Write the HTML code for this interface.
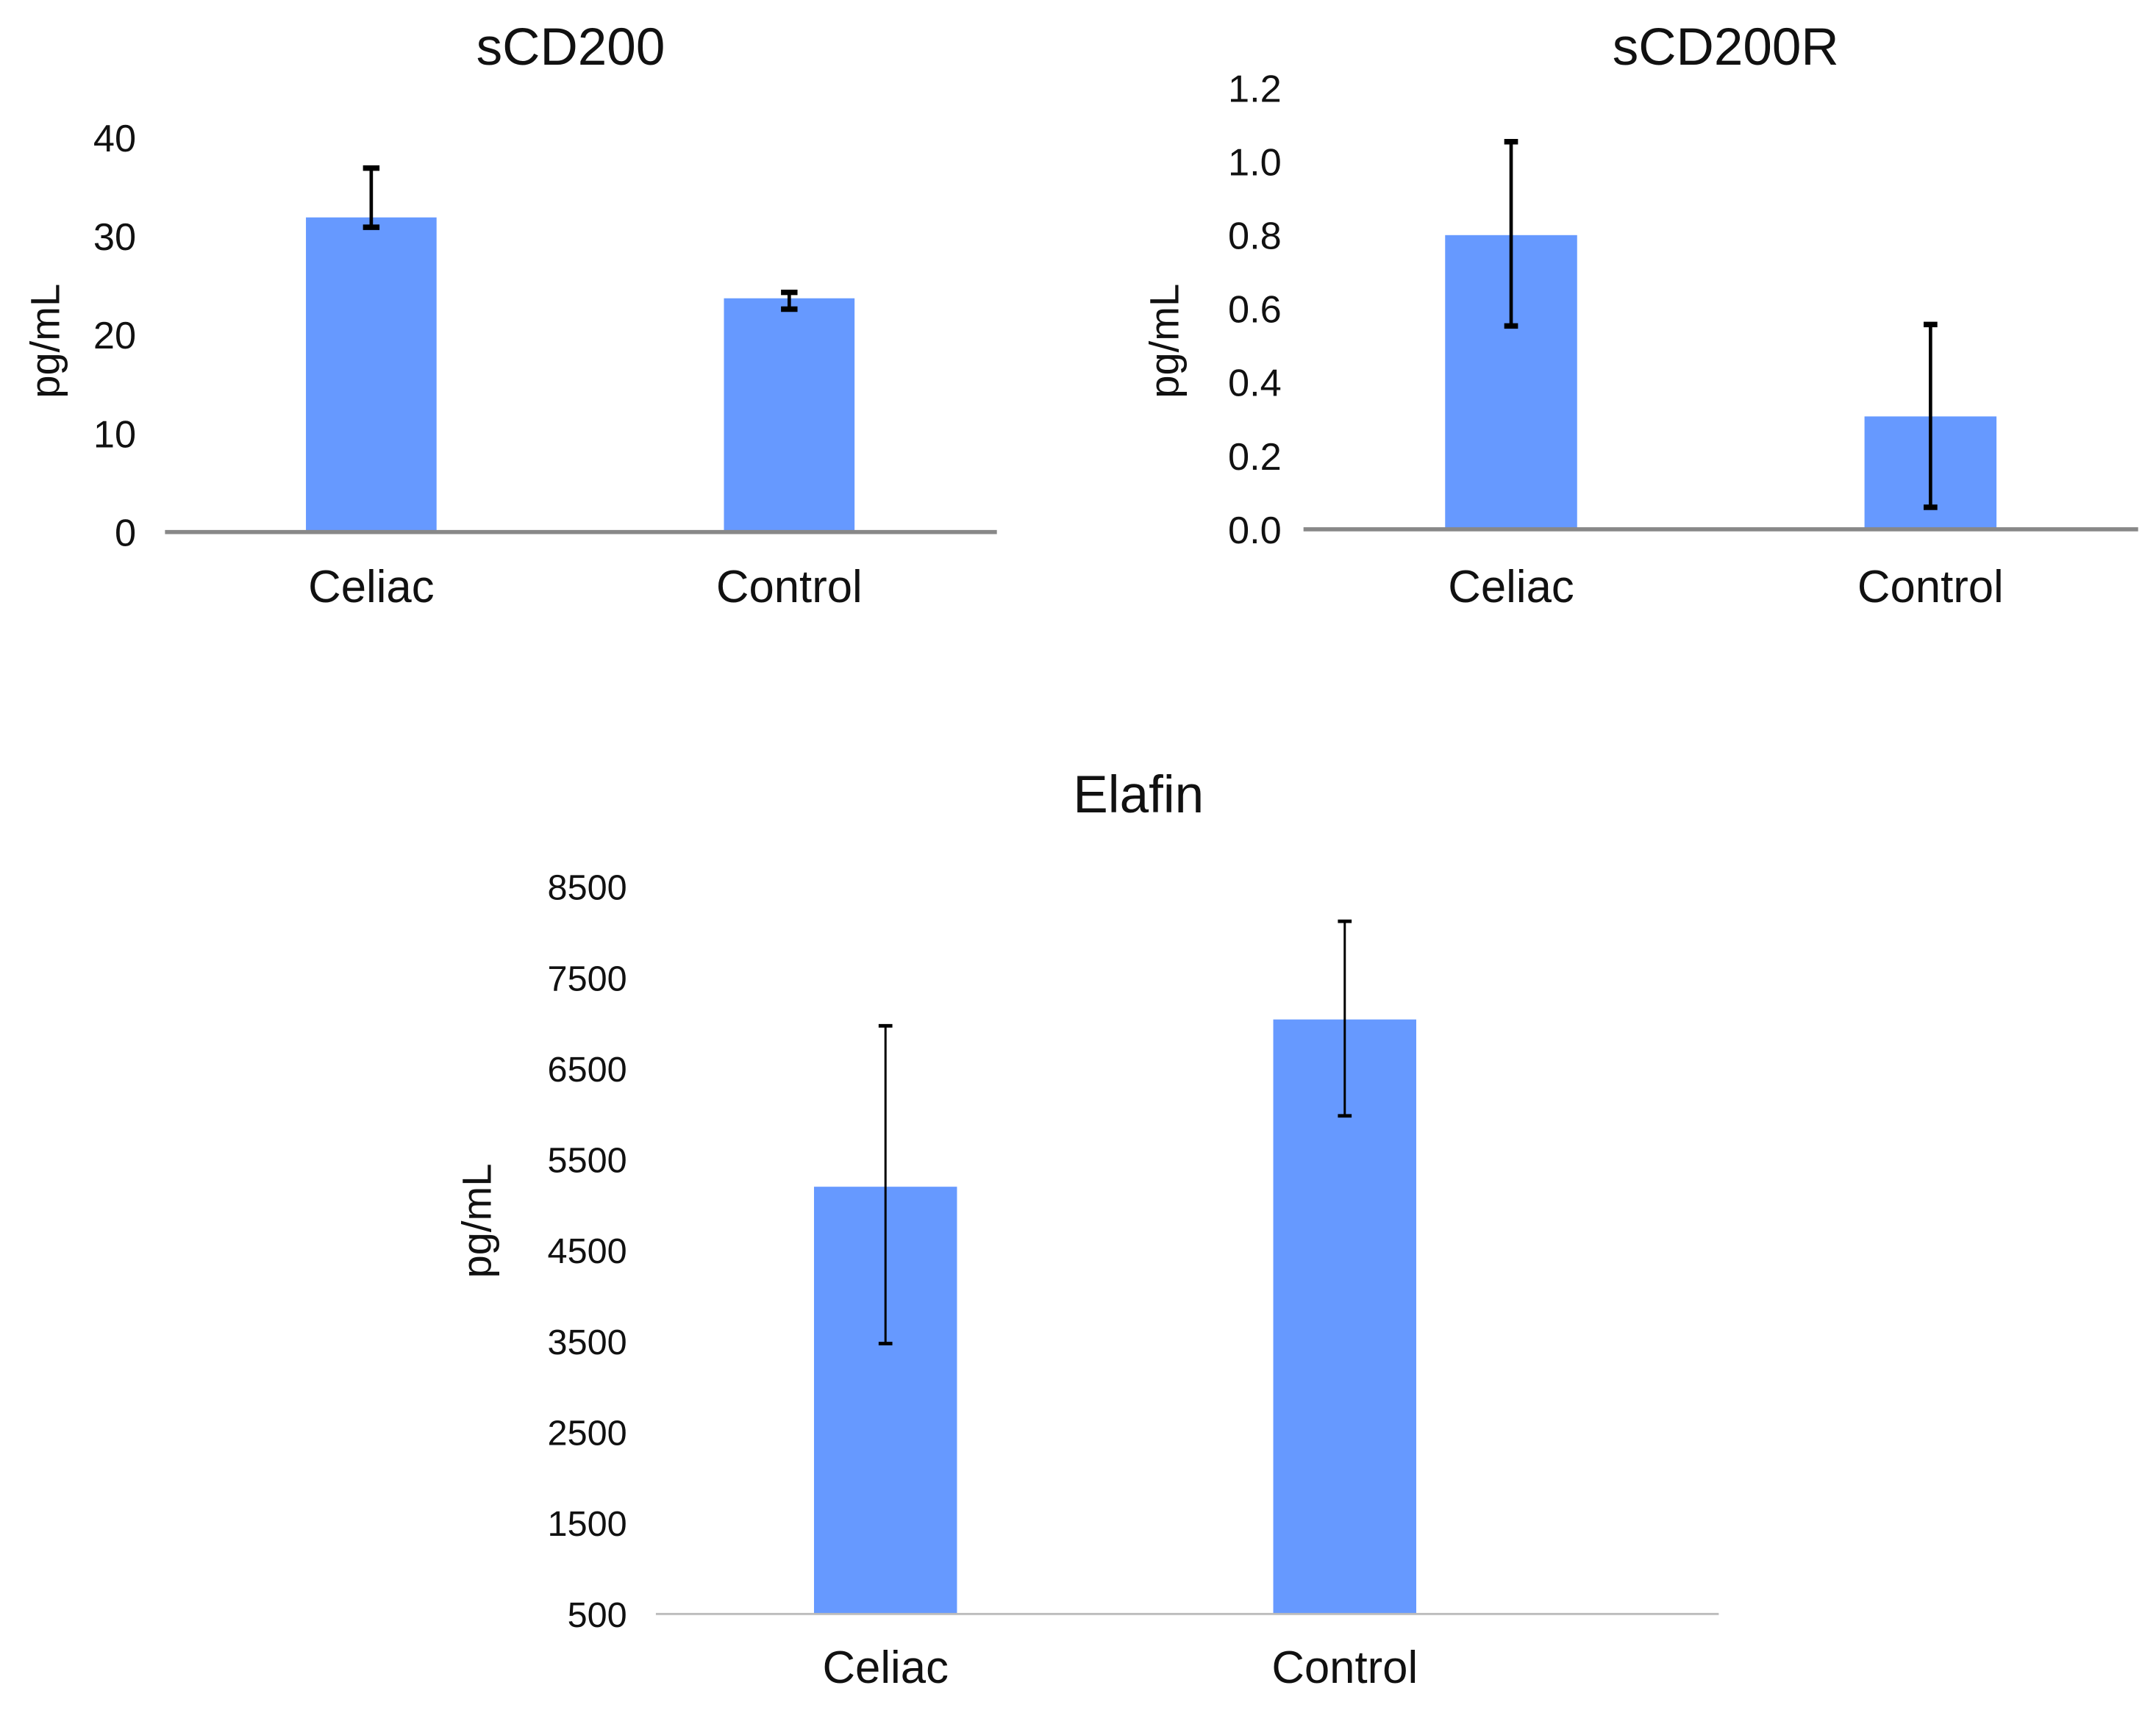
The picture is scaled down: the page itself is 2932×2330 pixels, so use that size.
<!DOCTYPE html>
<html><head><meta charset="utf-8"><style>
html,body{margin:0;padding:0;background:#fff;}
svg{display:block;}
text{font-family:"Liberation Sans Narrow","Liberation Sans",sans-serif;fill:#111;}
</style></head><body>
<svg id="fig" width="2932" height="2330" viewBox="0 0 1568 1246" xmlns="http://www.w3.org/2000/svg"></svg>
<script>
const categories = ["Celiac", "Control"];
const cd200Values = [31.9, 23.7];
const cd200ErrHi = [36.9, 24.3];
const cd200ErrLo = [30.9, 22.6];
const cd200Ticks = ["0", "10", "20", "30", "40"];
const cd200rValues = [0.80, 0.307];
const cd200rErrHi = [1.054, 0.557];
const cd200rErrLo = [0.553, 0.06];
const cd200rTicks = ["0.0", "0.2", "0.4", "0.6", "0.8", "1.0", "1.2"];
const elafinValues = [5200, 7040];
const elafinErrHi = [6970, 8120];
const elafinErrLo = [3475, 5980];
const elafinTicks = ["500", "1500", "2500", "3500", "4500", "5500", "6500", "7500", "8500"];

const NS = "http://www.w3.org/2000/svg";
const svg = document.getElementById("fig");
function mk(tag, attrs, parent, txt) {
  const e = document.createElementNS(NS, tag);
  for (const k in attrs) e.setAttribute(k, attrs[k]);
  if (txt !== undefined) e.textContent = txt;
  (parent || svg).appendChild(e);
  return e;
}

function chart(cfg) {
  const g = mk("g", {});
  
  
  const tmin = parseFloat(cfg.ticks[0]), tmax = parseFloat(cfg.ticks[cfg.ticks.length - 1]);
  const y = v => cfg.y0 - (v - tmin) / (tmax - tmin) * (cfg.y0 - cfg.yTop);
  const t = mk("text", {x: cfg.titleX, y: cfg.titleY, "text-anchor": "middle", "font-size": 38}, g, cfg.title);
  
  
  cfg.ticks.forEach(tk => {
    const l = mk("text", {x: cfg.tickX, y: y(parseFloat(tk)) + cfg.tickFont * 0.36, "text-anchor": "end", "font-size": cfg.tickFont}, g, tk);
    
    
  });
  const yl = mk("text", {x: 0, y: 0, "text-anchor": "middle", "font-size": 30, transform: `translate(${cfg.ylabX},${cfg.ylabY}) rotate(-90)`}, g, "pg/mL");
  
  
  categories.forEach((c, i) => {
    const cx = cfg.cx[i];
    const b = mk("rect", {x: cx - cfg.bw / 2, y: y(cfg.values[i]), width: cfg.bw, height: cfg.y0 - y(cfg.values[i]), fill: "#6699ff"}, g);
    
    
    const eg = mk("g", {stroke: "#000", "stroke-width": cfg.ew}, g);
    
    
    mk("line", {x1: cx, x2: cx, y1: y(cfg.hi[i]), y2: y(cfg.lo[i])}, eg);
    mk("line", {x1: cx - cfg.cap, x2: cx + cfg.cap, y1: y(cfg.hi[i]), y2: y(cfg.hi[i]), "stroke-width": cfg.ew * 1.6}, eg);
    mk("line", {x1: cx - cfg.cap, x2: cx + cfg.cap, y1: y(cfg.lo[i]), y2: y(cfg.lo[i]), "stroke-width": cfg.ew * 1.6}, eg);
    const cl = mk("text", {x: cx, y: cfg.catY, "text-anchor": "middle", "font-size": 33}, g, c);
    
    
  });
  const ax = mk("line", {x1: cfg.ax1, x2: cfg.ax2, y1: cfg.y0, y2: cfg.y0, stroke: cfg.axColor, "stroke-width": cfg.axW}, g);
  
  
}

chart({name: "chart-scd200", title: "sCD200", titleX: 415, titleY: 47, ticks: cd200Ticks,
  values: cd200Values, hi: cd200ErrHi, lo: cd200ErrLo, y0: 387, yTop: 100, tickX: 99, tickFont: 28,
  ylabX: 43, ylabY: 248, cx: [270, 574], bw: 95, cap: 6, ew: 2.5, catY: 438, ax1: 120, ax2: 725, axColor: "#888", axW: 3});
chart({name: "chart-scd200r", title: "sCD200R", titleX: 1255, titleY: 47, ticks: cd200rTicks,
  values: cd200rValues, hi: cd200rErrHi, lo: cd200rErrLo, y0: 385, yTop: 64, tickX: 932, tickFont: 28,
  ylabX: 857, ylabY: 248, cx: [1099, 1404], bw: 96, cap: 5, ew: 2.5, catY: 438, ax1: 948, ax2: 1555, axColor: "#888", axW: 3});
chart({name: "chart-elafin", title: "Elafin", titleX: 828, titleY: 591, ticks: elafinTicks,
  values: elafinValues, hi: elafinErrHi, lo: elafinErrLo, y0: 1174, yTop: 645, tickX: 456, tickFont: 26,
  ylabX: 357, ylabY: 888, cx: [644, 978], bw: 104, cap: 5, ew: 1.6, catY: 1224, ax1: 477, ax2: 1250, axColor: "#bbb", axW: 1.5});
</script>
</body></html>
